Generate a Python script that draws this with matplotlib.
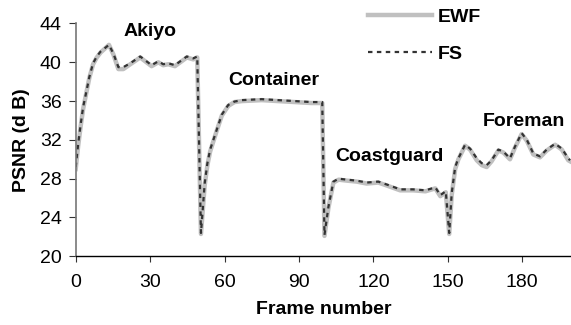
import numpy as np
import matplotlib
matplotlib.use('Agg')
import matplotlib.pyplot as plt

# frame numbers and PSNR (dB)
frames = [0, 1, 2, 3, 4.4, 5.5, 7, 8.5, 10, 13.4, 15.2, 17.2, 19.2, 22, 26, 30.6, 33.3, 35.3, 37.3, 40, 44.8, 47.4, 49,
          50.5, 52, 53.1, 54.2, 56.8, 58.9, 61.5, 64, 67, 75, 81.6, 88.4, 95, 99.4,
          100.3, 101.9, 103.9, 106, 109.3, 113.3, 117.3, 122, 125.4, 130.8, 136, 141, 145, 147, 149.2,
          150.6, 151.6, 153, 154.3, 157, 159, 161.7, 163.7, 165.7, 167.7, 170.4, 172.4, 175.1, 177.1,
          179.8, 181.9, 184.5, 187.2, 189.9, 193.3, 196, 198.6, 199.3]
fs = [29.2, 31.6, 33.6, 35.4, 37.1, 38.5, 39.9, 40.6, 41.1, 41.8, 40.9, 39.5, 39.5, 39.9, 40.6, 39.7, 40.1, 39.8, 39.9, 39.7, 40.6, 40.4, 40.6,
      22.4, 27.5, 29.6, 31.0, 33.0, 34.6, 35.6, 35.95, 36.1, 36.2, 36.1, 36.0, 35.9, 35.9,
      22.2, 25.1, 27.7, 28.0, 27.9, 27.8, 27.6, 27.7, 27.4, 26.9, 26.9, 26.8, 27.1, 26.3, 26.7,
      22.4, 26.5, 29.2, 30.1, 31.5, 31.1, 30.1, 29.6, 29.4, 29.9, 31.0, 30.8, 30.1, 31.3,
      32.7, 32.0, 30.6, 30.3, 31.0, 31.6, 31.1, 30.1, 29.9]
ewf = [29.0, 31.4, 33.4, 35.2, 37.0, 38.4, 39.8, 40.5, 41.0, 41.8, 40.8, 39.3, 39.3, 39.8, 40.5, 39.6, 40.0, 39.7, 39.8, 39.6, 40.5, 40.3, 40.5,
       22.3, 27.3, 29.4, 30.8, 32.9, 34.5, 35.5, 35.9, 36.0, 36.1, 36.0, 35.9, 35.8, 35.8,
       22.1, 25.0, 27.6, 27.9, 27.8, 27.7, 27.5, 27.6, 27.3, 26.8, 26.8, 26.7, 27.0, 26.2, 26.6,
       22.3, 26.3, 29.0, 30.0, 31.4, 31.0, 29.9, 29.4, 29.2, 29.8, 30.9, 30.7, 30.0, 31.2,
       32.6, 31.9, 30.5, 30.2, 30.9, 31.5, 31.0, 29.9, 29.8]

seq_names = ['Akiyo', 'Container', 'Coastguard', 'Foreman']
seq_label_x = [30, 79.7, 126.5, 180.8]
seq_label_y = [42.7, 37.7, 29.8, 33.4]

xticks = [0, 30, 60, 90, 120, 150, 180]
yticks = [20, 24, 28, 32, 36, 40, 44]

plt.rcParams['font.family'] = 'Liberation Sans'

fig = plt.figure(figsize=(5.71, 3.25), dpi=100)
ax = fig.add_axes([0.1326, 0.2114, 0.8674, 0.7163])

ax.plot(frames, ewf, color='#c0c0c0', lw=3.2, label='EWF', solid_joinstyle='round')
ax.plot(frames, fs, color='#333333', lw=1.6, ls=(0, (2, 2)), label='FS')

for name, lx, ly in zip(seq_names, seq_label_x, seq_label_y):
    ax.text(lx, ly, name, ha='center', va='baseline', fontsize=14, fontweight='bold')

ax.set_xlim(0, 199.7)
ax.set_ylim(20, 44)
ax.set_xticks(xticks)
ax.set_yticks(yticks)
ax.tick_params(labelsize=14, direction='out', color='#333333')
ax.tick_params(axis='x', length=4, pad=9)
ax.tick_params(axis='y', length=5, pad=5)
ax.spines['top'].set_visible(False)
ax.spines['right'].set_visible(False)
ax.spines['left'].set_color('#777777')
ax.spines['left'].set_linewidth(1.2)
ax.spines['bottom'].set_linewidth(1.0)

ax.set_xlabel('Frame number', fontsize=14, fontweight='bold', labelpad=7)
ax.set_ylabel('PSNR (d B)', fontsize=14, fontweight='bold', labelpad=7)

leg = ax.legend(loc='upper left', bbox_to_anchor=(368 / 571, 1 - 8 / 325), bbox_transform=fig.transFigure,
                frameon=False, fontsize=14, borderpad=0, borderaxespad=0,
                handlelength=3.3, handletextpad=0.3, labelspacing=1.0)
for t in leg.get_texts():
    t.set_fontweight('bold')

fig.savefig('out.png', dpi=100)
